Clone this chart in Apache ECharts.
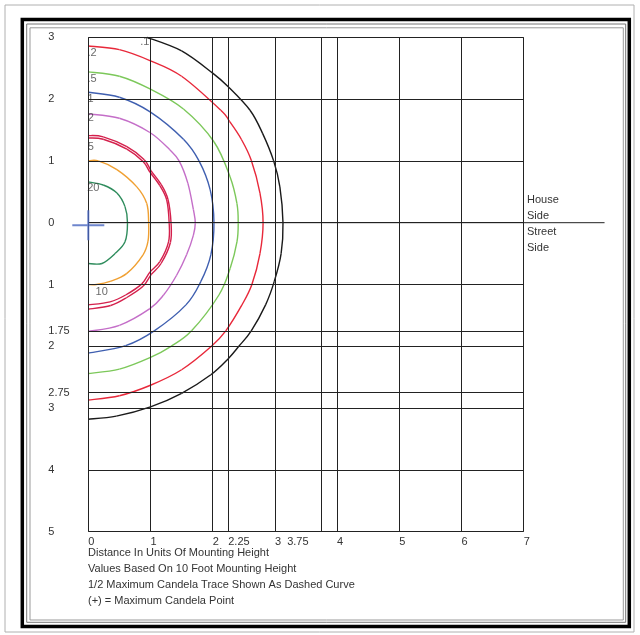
<!DOCTYPE html>
<html>
<head>
<meta charset="utf-8">
<script src="https://cdn.jsdelivr.net/npm/echarts@6/dist/echarts.min.js"></script>
<style>
html,body{margin:0;padding:0;background:#fff;}
#chart{width:640px;height:635px;}
</style>
</head>
<body>
<div id="chart"></div>
<script>
// ---- data ----
const xGridValues = [0, 1, 2, 2.25, 3, 3.75, 4, 5, 6, 7];
const yGridValues = [3, 2, 1, 0, -1, -1.75, -2, -2.75, -3, -4, -5];
const xTickLabels = [0, 1, 2, 2.25, 3, 3.75, 4, 5, 6, 7];
const yTickLabels = [3, 2, 1, 0, -1, -1.75, -2, -2.75, -3, -4, -5];

const curve01 = [[0.94,3.0],[1.5,2.78],[2.0,2.42],[2.25,2.2],[2.6,1.82],[2.8,1.45],[2.98,1.0],[3.08,0.58],[3.13,0],[3.1,-0.5],[2.99,-0.95],[2.85,-1.33],[2.62,-1.75],[2.42,-2.0],[2.25,-2.2],[1.97,-2.46],[1.5,-2.76],[1.0,-2.98],[0.45,-3.13],[0,-3.18]];
const curve02 = [[0,2.86],[0.5,2.8],[1.0,2.62],[1.5,2.37],[2.13,1.82],[2.27,1.64],[2.46,1.35],[2.62,1.01],[2.76,0.48],[2.81,0],[2.76,-0.5],[2.63,-1.0],[2.47,-1.33],[2.21,-1.75],[1.98,-2.0],[1.5,-2.38],[1.0,-2.63],[0.5,-2.8],[0,-2.87]];
const curve05 = [[0,2.44],[0.5,2.37],[1.0,2.16],[1.53,1.84],[2.02,1.31],[2.28,0.74],[2.39,0.31],[2.41,0],[2.39,-0.31],[2.28,-0.74],[2.1,-1.17],[1.66,-1.75],[1.33,-2.0],[1.0,-2.18],[0.5,-2.37],[0,-2.44]];
const curve1 = [[0,2.11],[0.5,2.03],[1.0,1.79],[1.53,1.35],[1.78,1.0],[1.96,0.53],[2.02,0],[1.97,-0.52],[1.81,-0.95],[1.57,-1.33],[1.06,-1.75],[0.6,-1.99],[0,-2.11]];
const curve2 = [[0,1.76],[0.5,1.69],[0.99,1.46],[1.31,1.18],[1.46,1.0],[1.6,0.64],[1.69,0.21],[1.72,0],[1.69,-0.2],[1.58,-0.52],[1.42,-0.85],[1.21,-1.17],[0.99,-1.39],[0.5,-1.66],[0,-1.76]];
const curve5a = [[0,1.37],[0.24,1.35],[0.62,1.19],[0.88,0.99],[0.99,0.82],[1.15,0.6],[1.26,0.37],[1.3,0],[1.29,-0.31],[1.15,-0.63],[0.99,-0.8],[0.86,-0.99],[0.6,-1.17],[0.35,-1.28],[0,-1.33]];
const curve5b = [[0,1.41],[0.24,1.39],[0.62,1.23],[0.9,1.02],[1.01,0.84],[1.17,0.62],[1.28,0.38],[1.33,0],[1.32,-0.32],[1.17,-0.66],[1.01,-0.84],[0.88,-1.03],[0.62,-1.21],[0.36,-1.34],[0,-1.4]];
const curve10 = [[0,1.0],[0.16,1.0],[0.46,0.86],[0.78,0.58],[0.94,0.31],[0.97,0],[0.96,-0.3],[0.88,-0.52],[0.62,-0.82],[0.35,-0.95],[0.13,-1.0],[0,-1.0]];
const curve20 = [[0,0.66],[0.24,0.61],[0.46,0.48],[0.59,0.26],[0.63,0],[0.59,-0.31],[0.43,-0.5],[0.22,-0.66],[0,-0.66]];

const contourLabels = [[0.91,2.93,'.1'],[0.06,2.75,'.2'],[0.06,2.33,'.5'],[0.035,2.01,'1'],[0.04,1.69,'2'],[0.04,1.23,'5'],[0.08,0.56,'20'],[0.215,-1.12,'10']];
const maxCandelaPoint = [[0, -0.04]];
const sideDivider = [[0, 0], [8.3, 0]];

// ---- chart ----
const FONT = '"Liberation Sans", Arial, sans-serif';
const TXT = '#333';
function has(list, v) { return list.some(t => Math.abs(t - v) < 1e-9); }

const curveDefs = [
  {name: '.1', data: curve01, color: '#1a1a1a'},
  {name: '.2', data: curve02, color: '#e8283a'},
  {name: '.5', data: curve05, color: '#7cc85a'},
  {name: '1', data: curve1, color: '#3f5fb0'},
  {name: '2', data: curve2, color: '#c46ec8'},
  {name: '5a', data: curve5a, color: '#d4204c'},
  {name: '5b', data: curve5b, color: '#d4204c'},
  {name: '10', data: curve10, color: '#f0a032'},
  {name: '20', data: curve20, color: '#2e8c5c'}
];

// each read point is joined to the next by a Catmull-Rom bezier segment
function curveSeries(def) {
  const pts = def.data;
  return {
    type: 'custom', name: def.name, data: pts, silent: true, animation: false, z: 3,
    encode: {x: 0, y: 1},
    renderItem: (params, api) => {
      const i = params.dataIndex;
      if (i >= pts.length - 1) return null;
      const P = k => api.coord(pts[Math.max(0, Math.min(pts.length - 1, k))]);
      const a = P(i - 1), b = P(i), c = P(i + 1), d = P(i + 2);
      return {
        type: 'bezierCurve',
        shape: {
          x1: b[0], y1: b[1], x2: c[0], y2: c[1],
          cpx1: b[0] + (c[0] - a[0]) / 6, cpy1: b[1] + (c[1] - a[1]) / 6,
          cpx2: c[0] - (d[0] - b[0]) / 6, cpy2: c[1] - (d[1] - b[1]) / 6
        },
        style: {stroke: def.color, lineWidth: 1.4, fill: 'none'}
      };
    }
  };
}

const series = [];
series.push({
  type: 'line', name: 'grid', data: [], silent: true,
  showSymbol: false, symbol: 'none', animation: false, z: 1,
  markLine: {
    silent: true, symbol: 'none', animation: false,
    label: {show: false},
    lineStyle: {color: '#222', width: 1, type: 'solid'},
    data: xGridValues.map(v => ({xAxis: v})).concat(yGridValues.map(v => ({yAxis: v})))
  }
});
curveDefs.forEach(c => series.push(curveSeries(c)));
series.push({
  type: 'scatter', name: 'labels', animation: false, silent: true, z: 4,
  data: contourLabels, symbolSize: 1, itemStyle: {color: 'rgba(0,0,0,0)'},
  label: {show: true, position: 'inside', formatter: p => p.value[2], color: '#444', fontSize: 11, fontFamily: FONT}
});
series.push({
  type: 'scatter', name: 'max', animation: false, silent: true, z: 5, clip: false,
  data: maxCandelaPoint,
  symbol: 'path://M0,14 L32,14 L32,16 L0,16 Z M15,0 L17,0 L17,30 L15,30 Z',
  symbolSize: [32, 30], symbolKeepAspect: false,
  itemStyle: {color: '#4a68c0'}
});

const baseGraphic = [
  {type: 'rect', silent: true, shape: {x: 5, y: 5, width: 629, height: 627}, style: {fill: 'none', stroke: '#b0b0b0', lineWidth: 1}},
  {type: 'rect', silent: true, shape: {x: 22.3, y: 19.5, width: 607, height: 607}, style: {fill: 'none', stroke: '#000', lineWidth: 3.5}},
  {type: 'rect', silent: true, shape: {x: 26.7, y: 24, width: 599, height: 598.3}, style: {fill: 'none', stroke: '#777', lineWidth: 1}},
  {type: 'rect', silent: true, shape: {x: 30, y: 27.8, width: 593.3, height: 592.2}, style: {fill: 'none', stroke: '#999', lineWidth: 1}},
  {type: 'text', silent: true, left: 527, top: 192, style: {text: 'House\nSide', fill: TXT, font: '11px ' + FONT, lineHeight: 16}},
  {type: 'text', silent: true, left: 527, top: 224, style: {text: 'Street\nSide', fill: TXT, font: '11px ' + FONT, lineHeight: 16}},
  {type: 'text', silent: true, left: 88, top: 545, style: {
    text: 'Distance In Units Of Mounting Height\nValues Based On 10 Foot Mounting Height\n1/2 Maximum Candela Trace Shown As Dashed Curve\n(+) = Maximum Candela Point',
    fill: TXT, font: '11px ' + FONT, lineHeight: 16}}
];

const option = {
  backgroundColor: '#fff',
  animation: false,
  grid: {left: 88.3, top: 37.3, width: 435.4, height: 494.4, containLabel: false},
  xAxis: [{
    type: 'value', min: 0, max: 7, interval: 0.25,
    axisLine: {show: false}, axisTick: {show: false}, splitLine: {show: false},
    axisLabel: {
      align: 'left', margin: 5, color: TXT, fontSize: 11, fontFamily: FONT,
      formatter: v => (has(xTickLabels, v) && Math.abs(v - 3.75) > 1e-9) ? String(v) : ''
    }
  }, {
    type: 'value', min: 0, max: 7, interval: 0.25, position: 'bottom',
    axisLine: {show: false}, axisTick: {show: false}, splitLine: {show: false},
    axisLabel: {
      align: 'right', margin: 5, color: TXT, fontSize: 11, fontFamily: FONT,
      formatter: v => Math.abs(v - 3.75) < 1e-9 ? '{a|3.75}' : '',
      rich: {a: {padding: [0, 13, 0, 0], color: TXT, fontSize: 11, fontFamily: FONT}}
    }
  }],
  yAxis: {
    type: 'value', min: -5, max: 3, interval: 0.25,
    axisLine: {show: false}, axisTick: {show: false}, splitLine: {show: false},
    axisLabel: {
      align: 'left', margin: 40, color: TXT, fontSize: 11, fontFamily: FONT,
      formatter: v => has(yTickLabels, v) ? String(Math.abs(v)) : ''
    }
  },
  graphic: baseGraphic,
  series: series
};

const chart = echarts.init(document.getElementById('chart'), null, {renderer: 'canvas'});
chart.setOption(option);

// House/Street divider: runs along y = 0 past the plot's right edge
const p0 = chart.convertToPixel({xAxisIndex: 0, yAxisIndex: 0}, sideDivider[0]);
const p1 = chart.convertToPixel({xAxisIndex: 0, yAxisIndex: 0}, sideDivider[1]);
chart.setOption({
  graphic: baseGraphic.concat([{
    type: 'line', silent: true, z: 2,
    shape: {x1: p0[0], y1: p0[1], x2: p1[0], y2: p1[1]},
    style: {stroke: '#222', lineWidth: 1}
  }])
});
</script>
</body>
</html>
